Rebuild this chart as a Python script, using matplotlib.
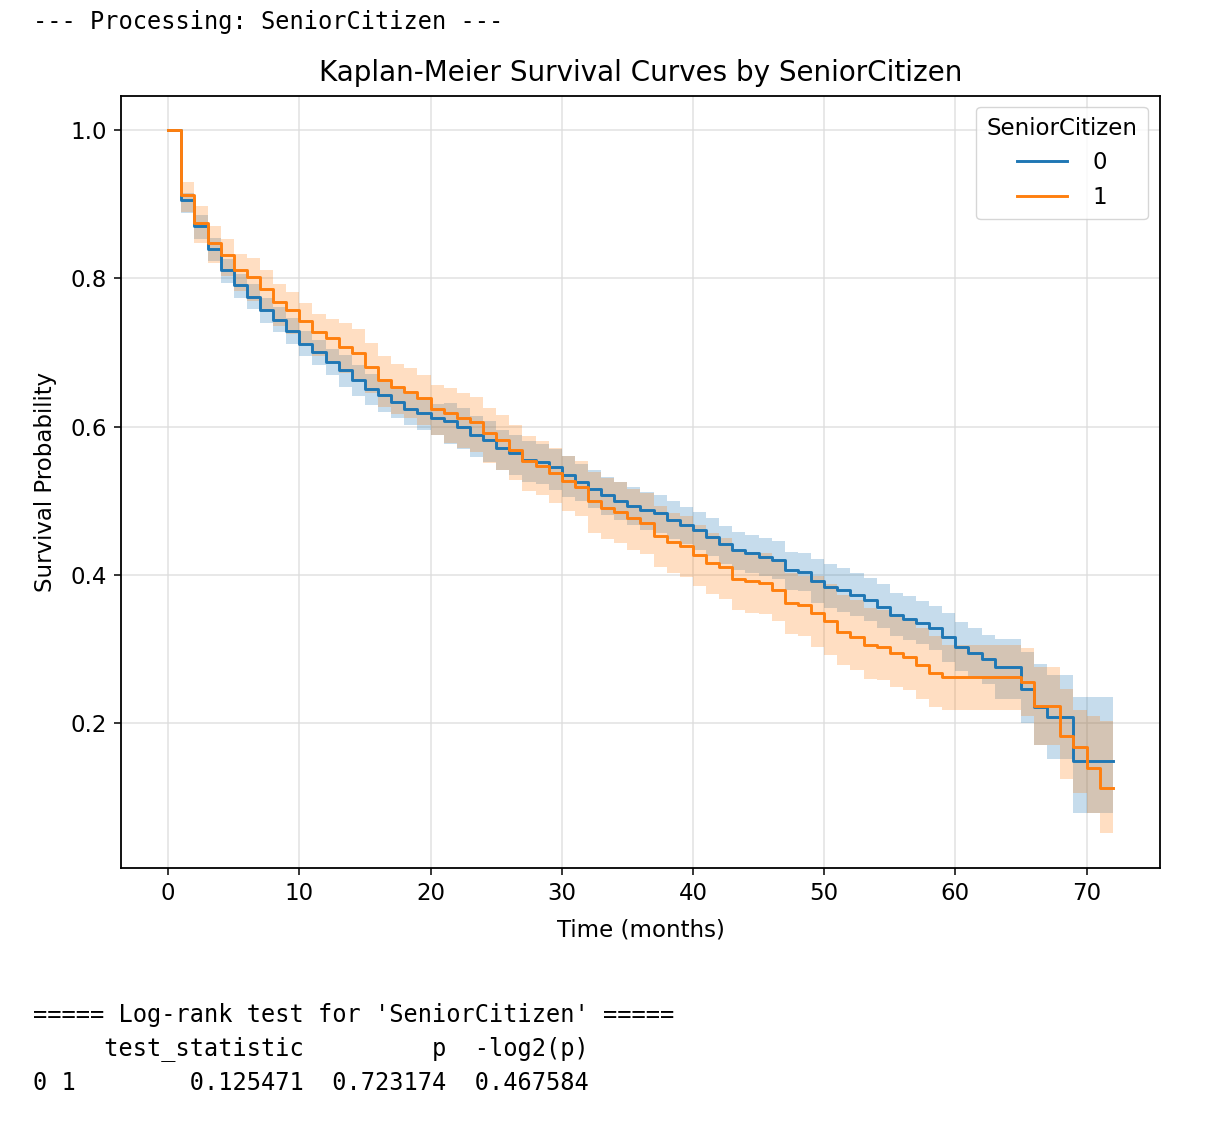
import matplotlib
matplotlib.use("Agg")
import matplotlib.pyplot as plt
import numpy as np

# ---- data ----
months = list(range(0, 73))

surv_0 = [1.000, 0.905, 0.870, 0.840, 0.811, 0.791, 0.775, 0.757, 0.744, 0.729,
          0.712, 0.700, 0.687, 0.676, 0.663, 0.651, 0.642, 0.633, 0.624, 0.618,
          0.611, 0.607, 0.600, 0.589, 0.582, 0.571, 0.564, 0.555, 0.552, 0.545,
          0.535, 0.525, 0.516, 0.507, 0.500, 0.493, 0.487, 0.483, 0.474, 0.467,
          0.460, 0.451, 0.441, 0.433, 0.429, 0.424, 0.420, 0.406, 0.404, 0.391,
          0.384, 0.379, 0.373, 0.366, 0.357, 0.346, 0.341, 0.335, 0.328, 0.316,
          0.303, 0.295, 0.286, 0.276, 0.276, 0.246, 0.222, 0.208, 0.208, 0.149,
          0.149, 0.149, 0.149]
upper_0 = [1.000, 0.915, 0.885, 0.855, 0.826, 0.806, 0.792, 0.774, 0.761, 0.746,
           0.729, 0.717, 0.704, 0.696, 0.683, 0.671, 0.662, 0.653, 0.644, 0.638,
           0.631, 0.632, 0.625, 0.614, 0.607, 0.596, 0.589, 0.580, 0.577, 0.570,
           0.560, 0.550, 0.541, 0.532, 0.525, 0.518, 0.512, 0.508, 0.499, 0.492,
           0.485, 0.476, 0.466, 0.458, 0.454, 0.449, 0.445, 0.431, 0.429, 0.421,
           0.414, 0.409, 0.403, 0.396, 0.387, 0.376, 0.371, 0.365, 0.358, 0.349,
           0.336, 0.328, 0.319, 0.314, 0.314, 0.296, 0.280, 0.265, 0.265, 0.235,
           0.235, 0.235, 0.235]
lower_0 = [1.000, 0.888, 0.853, 0.823, 0.794, 0.774, 0.758, 0.740, 0.727, 0.712,
           0.695, 0.683, 0.670, 0.654, 0.641, 0.629, 0.620, 0.611, 0.602, 0.596,
           0.589, 0.577, 0.570, 0.559, 0.552, 0.541, 0.534, 0.525, 0.522, 0.515,
           0.505, 0.499, 0.490, 0.481, 0.474, 0.467, 0.461, 0.457, 0.448, 0.441,
           0.434, 0.425, 0.415, 0.407, 0.403, 0.398, 0.394, 0.380, 0.378, 0.362,
           0.355, 0.350, 0.344, 0.337, 0.328, 0.317, 0.312, 0.306, 0.299, 0.283,
           0.270, 0.262, 0.253, 0.233, 0.233, 0.200, 0.170, 0.152, 0.152, 0.078,
           0.078, 0.078, 0.078]

surv_1 = [1.000, 0.912, 0.875, 0.848, 0.831, 0.811, 0.802, 0.786, 0.768, 0.757,
          0.742, 0.727, 0.720, 0.708, 0.699, 0.681, 0.663, 0.653, 0.647, 0.638,
          0.624, 0.618, 0.611, 0.606, 0.591, 0.582, 0.568, 0.553, 0.547, 0.537,
          0.526, 0.519, 0.499, 0.490, 0.485, 0.476, 0.470, 0.453, 0.444, 0.439,
          0.427, 0.416, 0.410, 0.394, 0.391, 0.389, 0.380, 0.362, 0.359, 0.348,
          0.337, 0.323, 0.316, 0.305, 0.303, 0.294, 0.289, 0.278, 0.267, 0.262,
          0.262, 0.262, 0.262, 0.262, 0.262, 0.256, 0.223, 0.223, 0.183, 0.167,
          0.139, 0.113, 0.113]
upper_1 = [1.000, 0.930, 0.897, 0.870, 0.853, 0.833, 0.827, 0.811, 0.793, 0.782,
           0.767, 0.752, 0.745, 0.740, 0.731, 0.713, 0.695, 0.685, 0.679, 0.670,
           0.656, 0.652, 0.645, 0.640, 0.625, 0.616, 0.602, 0.587, 0.581, 0.571,
           0.560, 0.553, 0.539, 0.530, 0.525, 0.516, 0.510, 0.493, 0.484, 0.479,
           0.467, 0.456, 0.450, 0.434, 0.431, 0.429, 0.420, 0.402, 0.399, 0.398,
           0.387, 0.373, 0.366, 0.355, 0.353, 0.344, 0.339, 0.328, 0.317, 0.305,
           0.305, 0.305, 0.305, 0.305, 0.305, 0.301, 0.276, 0.276, 0.246, 0.217,
           0.209, 0.203, 0.203]
lower_1 = [1.000, 0.890, 0.847, 0.820, 0.803, 0.783, 0.770, 0.754, 0.736, 0.725,
           0.710, 0.695, 0.688, 0.672, 0.663, 0.645, 0.627, 0.617, 0.611, 0.602,
           0.588, 0.578, 0.571, 0.566, 0.551, 0.542, 0.528, 0.513, 0.507, 0.497,
           0.486, 0.479, 0.457, 0.448, 0.443, 0.434, 0.428, 0.411, 0.402, 0.397,
           0.385, 0.374, 0.368, 0.352, 0.349, 0.347, 0.338, 0.320, 0.317, 0.303,
           0.292, 0.278, 0.271, 0.260, 0.258, 0.249, 0.244, 0.233, 0.222, 0.218,
           0.218, 0.218, 0.218, 0.218, 0.218, 0.209, 0.171, 0.170, 0.125, 0.105,
           0.078, 0.051, 0.051]

group_labels = ["0", "1"]
title = "Kaplan-Meier Survival Curves by SeniorCitizen"
header_text = "--- Processing: SeniorCitizen ---"
logrank_lines = [
    "===== Log-rank test for 'SeniorCitizen' =====",
    "     test_statistic         p  -log2(p)",
    "0 1        0.125471  0.723174  0.467584",
]

# ---- figure ----
fig = plt.figure(figsize=(12.07, 11.28), dpi=100)
ax = fig.add_axes([0.1002, 0.2305, 0.8609, 0.6844])

colors = ["#1f77b4", "#ff7f0e"]
series = [(surv_0, lower_0, upper_0), (surv_1, lower_1, upper_1)]
for (s, lo, hi), c, lab in zip(series, colors, group_labels):
    ax.step(months, s, where="post", color=c, lw=2.1, label=lab, zorder=3)
    ax.fill_between(months, lo, hi, step="post", color=c, alpha=0.25,
                    lw=0, zorder=2)

ax.set_xlim(-3.6, 75.6)
ax.set_ylim(0.0044, 1.046)
ax.set_xticks([0, 10, 20, 30, 40, 50, 60, 70])
ax.set_yticks([0.2, 0.4, 0.6, 0.8, 1.0])
ax.tick_params(labelsize=16.5, length=5, width=1.1, pad=5)
ax.grid(True, color="#dddddd", lw=1.2, alpha=0.8)
ax.set_axisbelow(True)
for sp in ax.spines.values():
    sp.set_linewidth(1.3)

ax.set_title(title, fontsize=20, pad=11)
ax.set_xlabel("Time (months)", fontsize=16.5, labelpad=10)
ax.set_ylabel("Survival Probability", fontsize=16.5, labelpad=10)

leg = ax.legend(title="SeniorCitizen", loc="upper right", fontsize=16.5,
                title_fontsize=16.5, handlelength=2.2, borderpad=0.45,
                labelspacing=0.5, handletextpad=1.1,
                bbox_to_anchor=(0.999, 1.001))

mono = dict(family="DejaVu Sans Mono", fontsize=17)
fig.text(33 / 1207, 1 - 22 / 1128, header_text, ha="left", va="center", **mono)
for i, line in enumerate(logrank_lines):
    yc = (1015 + 34 * i)
    fig.text(33 / 1207, 1 - yc / 1128, line, ha="left", va="center", **mono)

fig.savefig("out.png", dpi=100)
